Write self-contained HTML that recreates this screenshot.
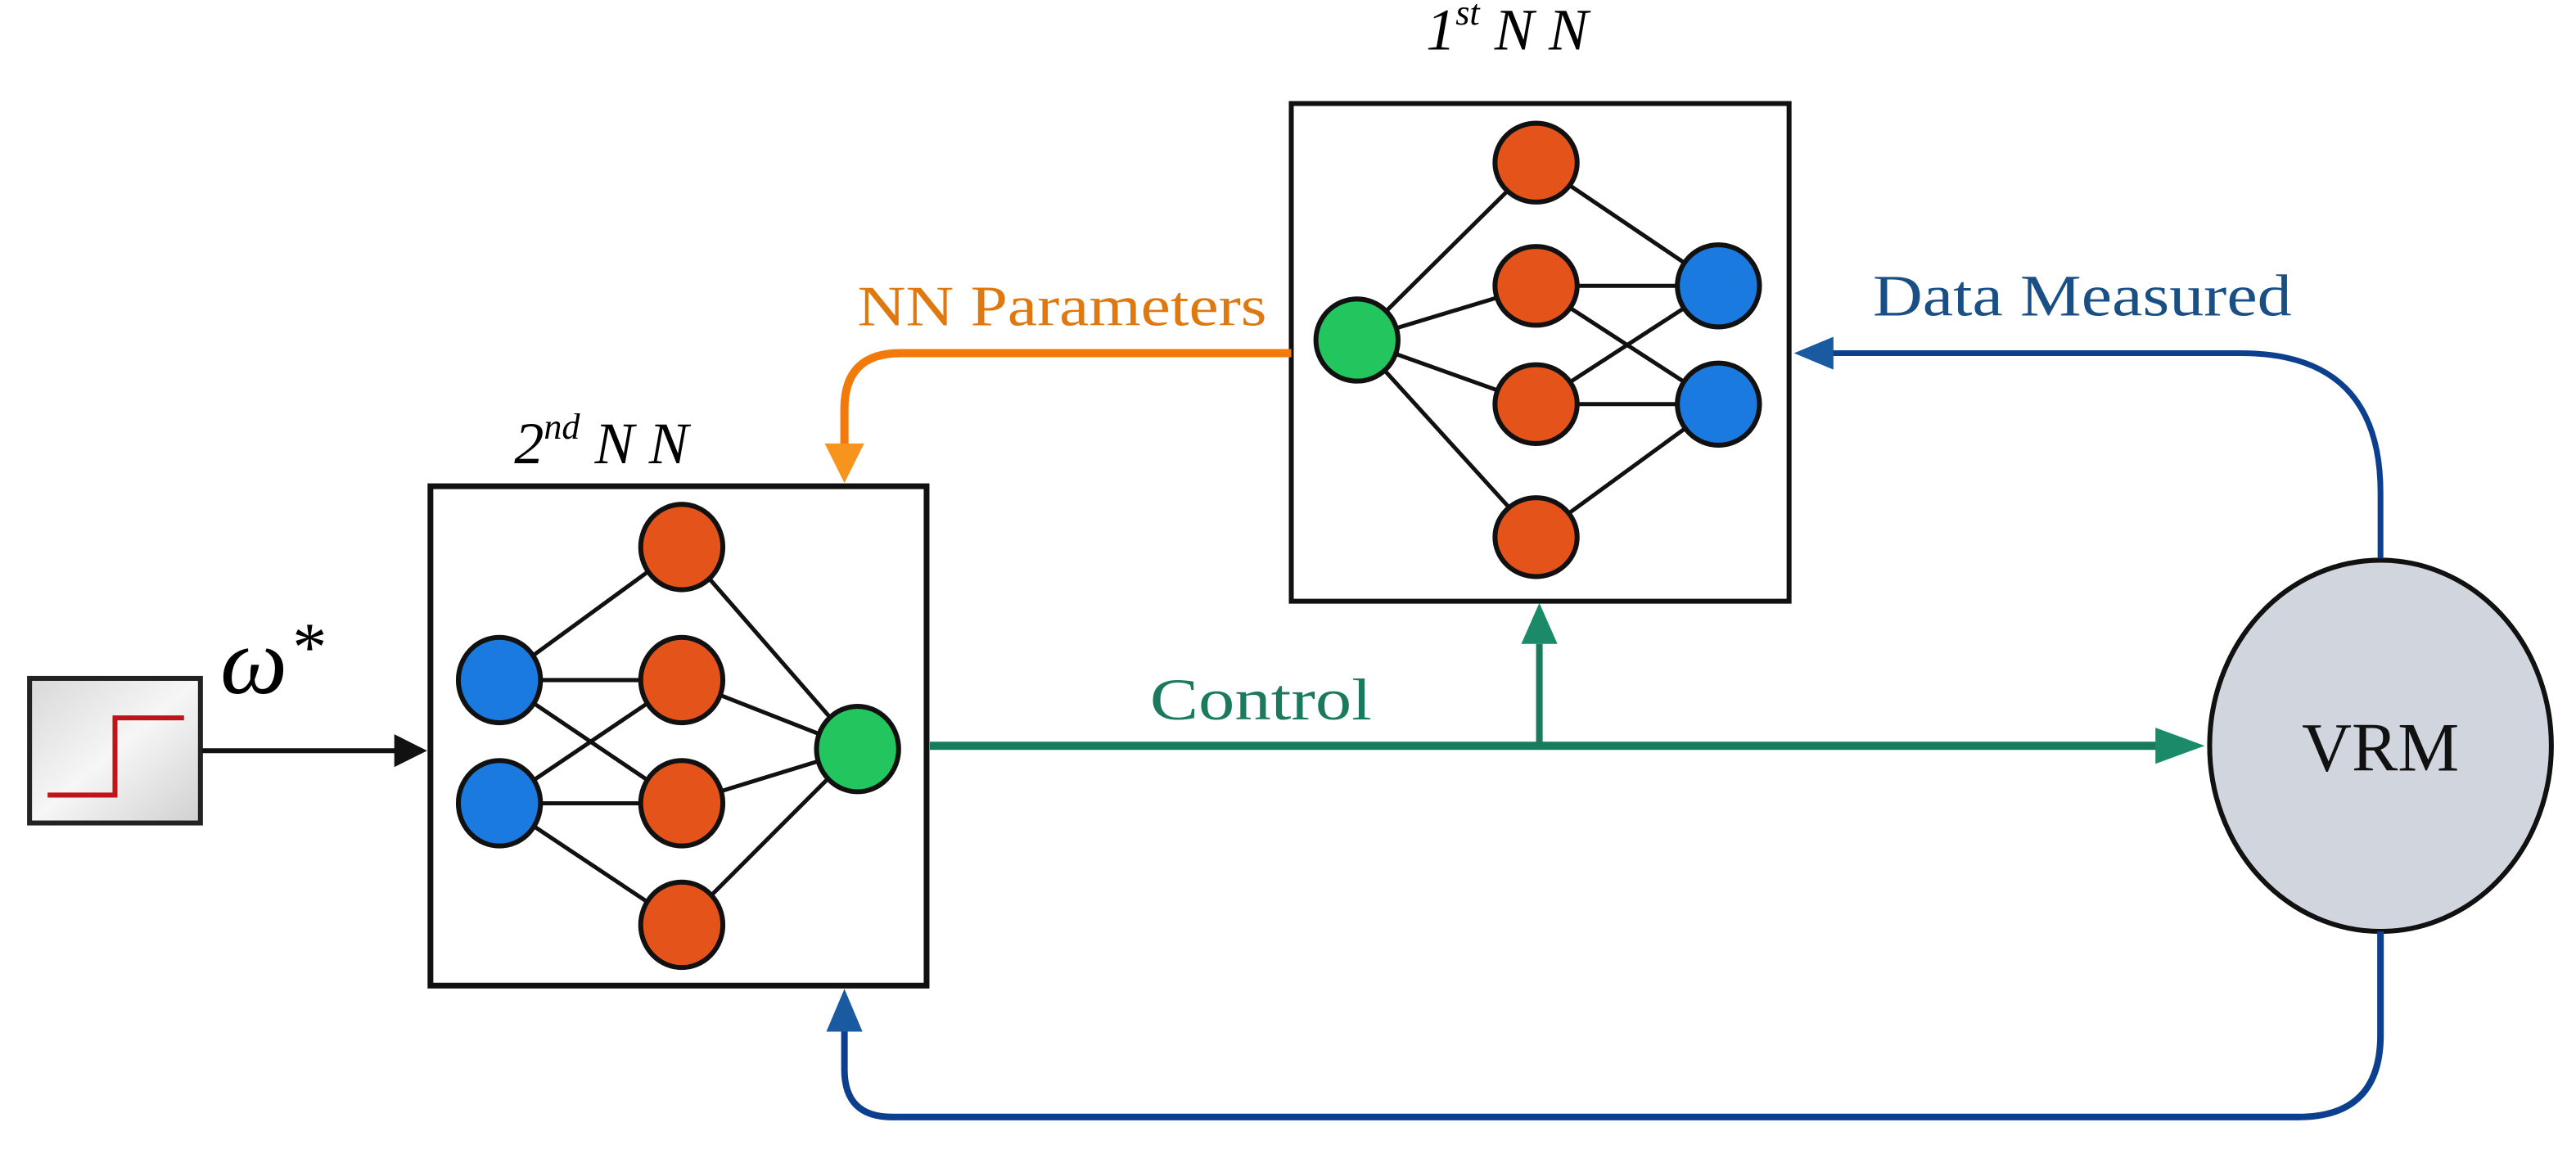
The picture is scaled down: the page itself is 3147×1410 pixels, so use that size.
<!DOCTYPE html>
<html><head><meta charset="utf-8"><style>html,body{margin:0;padding:0;background:#fff}svg{display:block}</style></head>
<body>
<svg width="3147" height="1410" viewBox="0 0 1568 702.5" xmlns="http://www.w3.org/2000/svg">
<defs>
<linearGradient id="g" x1="0" y1="0" x2="1" y2="1"><stop offset="0" stop-color="#d8d8d8"/><stop offset="0.5" stop-color="#f6f6f6"/><stop offset="1" stop-color="#d0d0d0"/></linearGradient>
</defs>
<g font-family="Liberation Serif, serif">
<!-- step block -->
<rect x="18" y="413" width="104" height="88" fill="url(#g)" stroke="#222" stroke-width="3"/>
<polyline points="29,484 70,484 70,437 112,437" fill="none" stroke="#c0141c" stroke-width="3"/>
<text x="134" y="422" font-size="58" font-style="italic">ω</text>
<text x="176" y="408" font-size="42" font-style="italic">*</text>
<line x1="123" y1="457" x2="242" y2="457" stroke="#111" stroke-width="3"/>
<polygon points="260,457 240,447 240,467" fill="#111"/>

<!-- 2nd NN -->
<text x="313" y="282" font-size="36" font-style="italic">2<tspan font-size="22" dy="-15">nd</tspan><tspan dy="15"> N N</tspan></text>
<rect x="262" y="296" width="302" height="304" fill="#fff" stroke="#111" stroke-width="3.5"/>
<g stroke="#111" stroke-width="2.5">
<line x1="304" y1="414" x2="415" y2="333"/><line x1="304" y1="414" x2="415" y2="414"/><line x1="304" y1="414" x2="415" y2="489"/>
<line x1="304" y1="489" x2="415" y2="414"/><line x1="304" y1="489" x2="415" y2="489"/><line x1="304" y1="489" x2="415" y2="563"/>
<line x1="415" y1="333" x2="522" y2="456"/><line x1="415" y1="414" x2="522" y2="456"/><line x1="415" y1="489" x2="522" y2="456"/><line x1="415" y1="563" x2="522" y2="456"/>
</g>
<g stroke="#111" stroke-width="3">
<ellipse cx="304" cy="414" rx="25" ry="26" fill="#1a7ae0"/><ellipse cx="304" cy="489" rx="25" ry="26" fill="#1a7ae0"/>
<ellipse cx="415" cy="333" rx="25" ry="26" fill="#e4541a"/><ellipse cx="415" cy="414" rx="25" ry="26" fill="#e4541a"/>
<ellipse cx="415" cy="489" rx="25" ry="26" fill="#e4541a"/><ellipse cx="415" cy="563" rx="25" ry="26" fill="#e4541a"/>
<ellipse cx="522" cy="456" rx="25" ry="26" fill="#22c55e"/>
</g>

<!-- 1st NN -->
<text x="868" y="30" font-size="36" font-style="italic">1<tspan font-size="22" dy="-15">st</tspan><tspan dy="15"> N N</tspan></text>
<rect x="786" y="63" width="303" height="303" fill="#fff" stroke="#111" stroke-width="3"/>
<g stroke="#111" stroke-width="2.5">
<line x1="826" y1="207" x2="935" y2="99"/><line x1="826" y1="207" x2="935" y2="174"/><line x1="826" y1="207" x2="935" y2="246"/><line x1="826" y1="207" x2="935" y2="327"/>
<line x1="935" y1="99" x2="1046" y2="174"/><line x1="935" y1="174" x2="1046" y2="174"/><line x1="935" y1="174" x2="1046" y2="246"/>
<line x1="935" y1="246" x2="1046" y2="174"/><line x1="935" y1="246" x2="1046" y2="246"/><line x1="935" y1="327" x2="1046" y2="246"/>
</g>
<g stroke="#111" stroke-width="3">
<ellipse cx="826" cy="207" rx="25" ry="25" fill="#22c55e"/>
<ellipse cx="935" cy="99" rx="25" ry="24" fill="#e4541a"/><ellipse cx="935" cy="174" rx="25" ry="24" fill="#e4541a"/>
<ellipse cx="935" cy="246" rx="25" ry="24" fill="#e4541a"/><ellipse cx="935" cy="327" rx="25" ry="24" fill="#e4541a"/>
<ellipse cx="1046" cy="174" rx="25" ry="25" fill="#1a7ae0"/><ellipse cx="1046" cy="246" rx="25" ry="25" fill="#1a7ae0"/>
</g>

<!-- NN parameters -->
<path d="M786,215 L548,215 Q514,215 514,249 L514,272" fill="none" stroke="#f27a0a" stroke-width="5"/>
<polygon points="514,294 502,270 526,270" fill="#f7941d"/>
<text x="522" y="198" font-size="35" fill="#e07810" textLength="249" lengthAdjust="spacingAndGlyphs">NN Parameters</text>

<!-- Control -->
<line x1="566" y1="454" x2="1315" y2="454" stroke="#1a7a5e" stroke-width="5"/>
<polygon points="1342,454 1312,443 1312,465" fill="#1a8a68"/>
<line x1="937" y1="454" x2="937" y2="392" stroke="#1a7a5e" stroke-width="4"/>
<polygon points="937,367 926,392 948,392" fill="#1a8a68"/>
<text x="700" y="438" font-size="36" fill="#1a7a5e" textLength="135" lengthAdjust="spacingAndGlyphs">Control</text>

<!-- VRM -->
<ellipse cx="1449" cy="454" rx="104" ry="113" fill="#d0d5de" stroke="#111" stroke-width="3"/>
<text x="1449" y="469" font-size="42" text-anchor="middle" fill="#111">VRM</text>

<!-- data measured -->
<path d="M1449,340 L1449,300 Q1449,215 1364,215 L1110,215" fill="none" stroke="#0d3f8f" stroke-width="3.5"/>
<polygon points="1092,215 1116,205 1116,225" fill="#1a5aa0"/>
<text x="1140" y="192" font-size="36" fill="#1a4f86" textLength="255" lengthAdjust="spacingAndGlyphs">Data Measured</text>

<!-- bottom feedback -->
<path d="M1449,567 L1449,630 Q1449,680 1399,680 L543,680 Q514,680 514,651 L514,625" fill="none" stroke="#0d3f8f" stroke-width="4"/>
<polygon points="514,602 503,628 525,628" fill="#1a5aa0"/>
</g>
</svg>
</body></html>
